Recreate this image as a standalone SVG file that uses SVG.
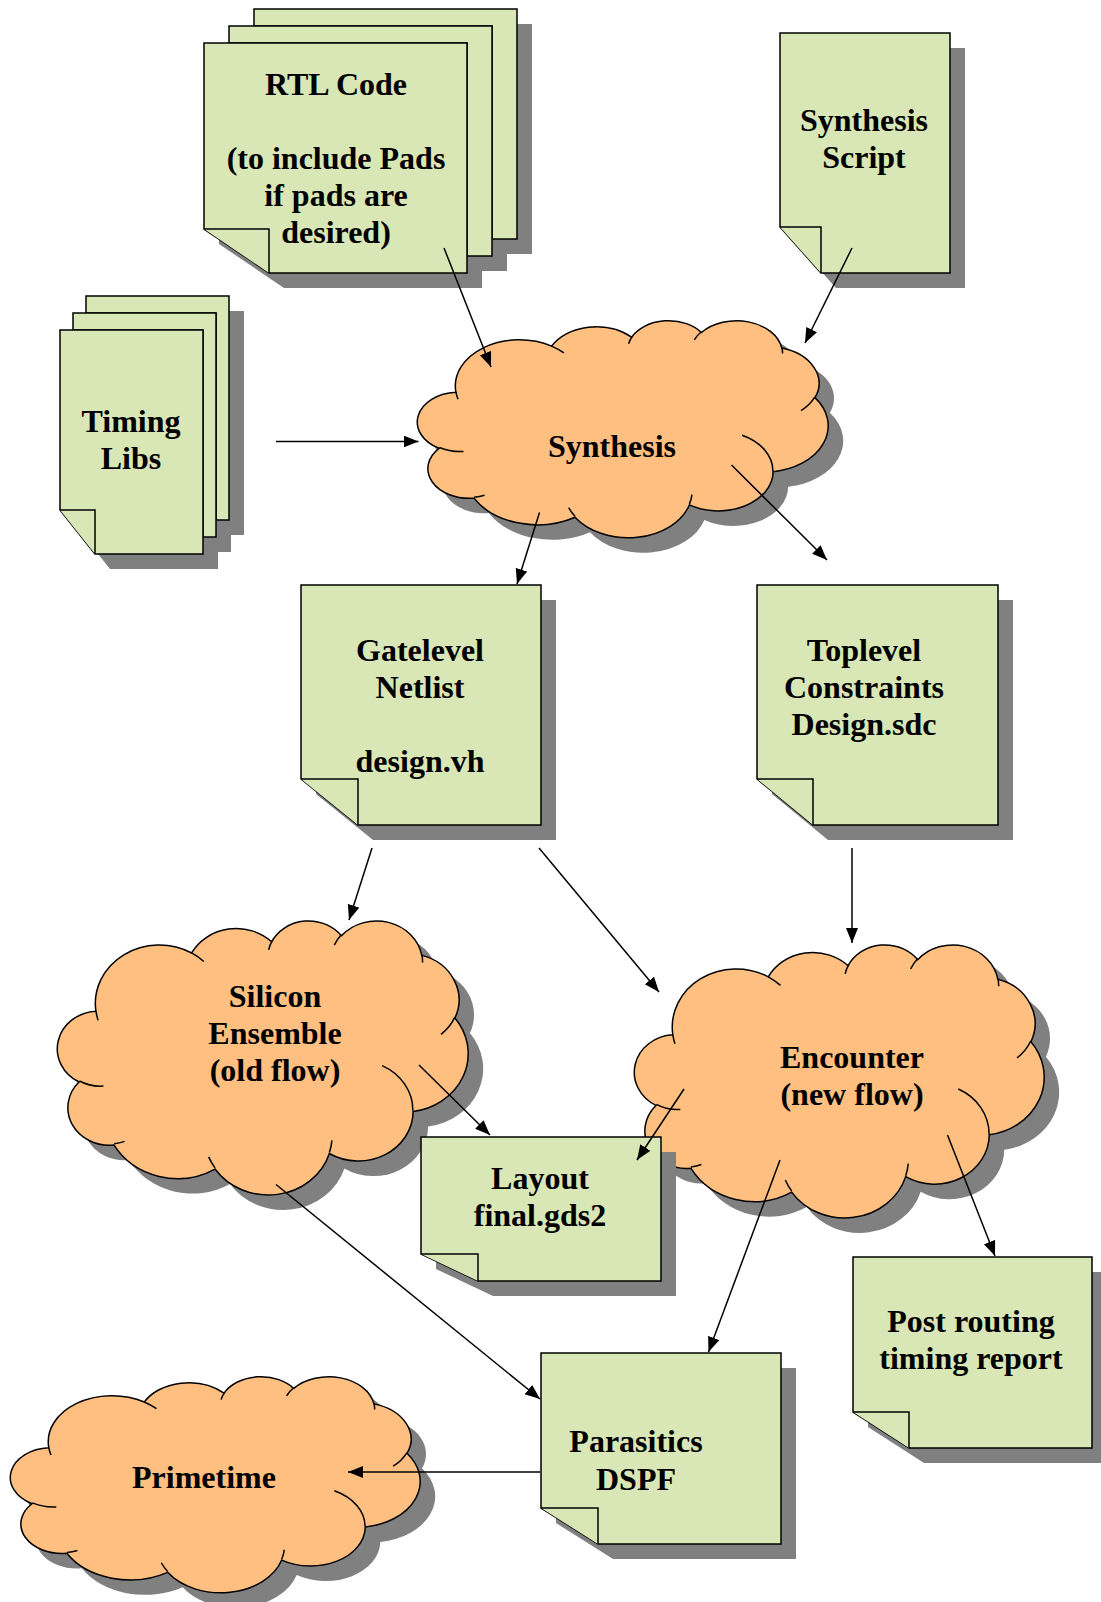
<svg xmlns="http://www.w3.org/2000/svg" xmlns:xlink="http://www.w3.org/1999/xlink" width="1101" height="1602" viewBox="0 0 1101 1602">
<style>
.pg{fill:#D8E7B5;stroke:#000;stroke-width:1.5;stroke-linejoin:miter}
.fold{fill:#D8E7B5;stroke:#000;stroke-width:1.5}
.sh{fill:#808080;stroke:none}
.cl{fill:#FFBF80;stroke:#000;stroke-width:1.5}
.cin{fill:none;stroke:#000;stroke-width:1.5}
.t{font-family:"Liberation Serif","Times New Roman",serif;font-weight:bold;font-size:32px;text-anchor:middle;fill:#000}
.cn{stroke:#000;stroke-width:1.5;fill:none;marker-end:url(#ah)}
</style>
<defs>
<marker id="ah" markerWidth="16" markerHeight="13" refX="15" refY="6" orient="auto" markerUnits="userSpaceOnUse"><path d="M0,0 L15,6 L0,12 Z" fill="#000"/></marker>
<path id="cloudShape" vector-effect="non-scaling-stroke" d="M3900 14370A6753 9190 0 0 1 14005 5202A5333 7267 0 0 1 22455 3433A4365 5945 0 0 1 29832 2481A4857 6595 0 0 1 38318 5576A5333 7273 0 0 1 41818 15459A6775 9220 0 0 1 37404 30202A5785 7867 0 0 1 28556 36813A6752 9215 0 0 1 16480 39264A7720 10543 0 0 1 5804 35468A4360 5918 0 0 1 2114 25545A4345 5945 0 0 1 3900 14370Z"/>
<path id="cloudLines" vector-effect="non-scaling-stroke" d="M4693 26177A4345 5945 0 0 1 2160 25380M6928 34899A4360 5918 0 0 1 5820 35280M16478 39090A6752 9215 0 0 1 15810 37350M28827 34751A6752 9215 0 0 1 28560 36660M34129 22954A5785 7867 0 0 1 37380 30090M41798 15354A5333 7273 0 0 1 40350 18030M38324 5426A4857 6595 0 0 1 38400 6690M29078 3952A4857 6595 0 0 1 29819 2341M22141 4720A4365 5945 0 0 1 22540 3225M14000 5192A6753 9190 0 0 1 15300 6540M4127 15789A6753 9190 0 0 1 3900 14370"/>
</defs>
<rect x="0" y="0" width="1101" height="1602" fill="#fff"/>

<g id="rtl">
<polygon class="sh" points="269,41 269,24 532,24 532,254 507,254 507,41"/>
<polygon class="sh" points="244,58 244,41 507,41 507,271 482,271 482,58"/>
<polygon class="sh" points="219,58 482,58 482,288 284,288 219,244"/>
<polygon class="pg" points="254,26 254,9 517,9 517,239 492,239 492,26"/>
<polygon class="pg" points="229,43 229,26 492,26 492,256 467,256 467,43"/>
<polygon class="pg" points="204,43 467,43 467,273 269,273 204,229"/>
<polyline class="fold" points="204,229 269,229 269,273"/>
<text class="t" x="336" y="95">RTL Code</text>
<text class="t" x="336" y="169">(to include Pads</text>
<text class="t" x="336" y="206">if pads are</text>
<text class="t" x="336" y="243">desired)</text>
</g>

<g id="script">
<polygon class="sh" points="795,48 965,48 965,288 836,288 795,242"/>
<polygon class="pg" points="780,33 950,33 950,273 821,273 780,227"/>
<polyline class="fold" points="780,227 821,227 821,273"/>
<text class="t" x="864" y="131">Synthesis</text>
<text class="t" x="864" y="168">Script</text>
</g>

<g id="timing">
<polygon class="sh" points="101,328 101,311 244,311 244,535 231,535 231,328"/>
<polygon class="sh" points="88,345 88,328 231,328 231,552 218,552 218,345"/>
<polygon class="sh" points="75,345 218,345 218,569 110,569 75,525"/>
<polygon class="pg" points="86,313 86,296 229,296 229,520 216,520 216,313"/>
<polygon class="pg" points="73,330 73,313 216,313 216,537 203,537 203,330"/>
<polygon class="pg" points="60,330 203,330 203,554 95,554 60,510"/>
<polyline class="fold" points="60,510 95,510 95,554"/>
<text class="t" x="131" y="432">Timing</text>
<text class="t" x="131" y="469">Libs</text>
</g>

<g id="synthesis">
<use xlink:href="#cloudShape" class="sh" transform="translate(434,335) scale(0.0094676,0.0050231)"/>
<use xlink:href="#cloudShape" class="cl" transform="translate(419,320) scale(0.0094676,0.0050231)"/>
<use xlink:href="#cloudLines" class="cin" transform="translate(419,320) scale(0.0094676,0.0050231)"/>
<text class="t" x="612" y="457">Synthesis</text>
</g>

<g id="gatelevel">
<polygon class="sh" points="316,600 556,600 556,840 373,840 316,794"/>
<polygon class="pg" points="301,585 541,585 541,825 358,825 301,779"/>
<polyline class="fold" points="301,779 358,779 358,825"/>
<text class="t" x="420" y="661">Gatelevel</text>
<text class="t" x="420" y="698">Netlist</text>
<text class="t" x="420" y="772">design.vh</text>
</g>

<g id="toplevel">
<polygon class="sh" points="772,600 1013,600 1013,840 828,840 772,794"/>
<polygon class="pg" points="757,585 998,585 998,825 813,825 757,779"/>
<polyline class="fold" points="757,779 813,779 813,825"/>
<text class="t" x="864" y="661">Toplevel</text>
<text class="t" x="864" y="698">Constraints</text>
<text class="t" x="864" y="735">Design.sdc</text>
</g>

<g id="silicon">
<use xlink:href="#cloudShape" class="sh" transform="translate(74,935) scale(0.0094676,0.0063426)"/>
<use xlink:href="#cloudShape" class="cl" transform="translate(59,920) scale(0.0094676,0.0063426)"/>
<use xlink:href="#cloudLines" class="cin" transform="translate(59,920) scale(0.0094676,0.0063426)"/>
<text class="t" x="275" y="1007">Silicon</text>
<text class="t" x="275" y="1044">Ensemble</text>
<text class="t" x="275" y="1081">(old flow)</text>
</g>

<g id="encounter">
<use xlink:href="#cloudShape" class="sh" transform="translate(651,959) scale(0.0094444,0.0063194)"/>
<use xlink:href="#cloudShape" class="cl" transform="translate(636,944) scale(0.0094444,0.0063194)"/>
<use xlink:href="#cloudLines" class="cin" transform="translate(636,944) scale(0.0094444,0.0063194)"/>
<text class="t" x="852" y="1068">Encounter</text>
<text class="t" x="852" y="1105">(new flow)</text>
</g>

<g id="layout">
<polygon class="sh" points="436,1152 676,1152 676,1296 493,1296 436,1269"/>
<polygon class="pg" points="421,1137 661,1137 661,1281 478,1281 421,1254"/>
<polyline class="fold" points="421,1254 478,1254 478,1281"/>
<text class="t" x="540" y="1189">Layout</text>
<text class="t" x="540" y="1226">final.gds2</text>
</g>

<g id="parasitics">
<polygon class="sh" points="556,1368 796,1368 796,1559 613,1559 556,1523"/>
<polygon class="pg" points="541,1353 781,1353 781,1544 598,1544 541,1508"/>
<polyline class="fold" points="541,1508 598,1508 598,1544"/>
<text class="t" x="636" y="1452">Parasitics</text>
<text class="t" x="636" y="1490">DSPF</text>
</g>

<g id="postrouting">
<polygon class="sh" points="868,1272 1107,1272 1107,1463 924,1463 868,1427"/>
<polygon class="pg" points="853,1257 1092,1257 1092,1448 909,1448 853,1412"/>
<polyline class="fold" points="853,1412 909,1412 909,1448"/>
<text class="t" x="971" y="1332">Post routing</text>
<text class="t" x="971" y="1369">timing report</text>
</g>

<g id="primetime">
<use xlink:href="#cloudShape" class="sh" transform="translate(27,1391) scale(0.0094444,0.005)"/>
<use xlink:href="#cloudShape" class="cl" transform="translate(12,1376) scale(0.0094444,0.005)"/>
<use xlink:href="#cloudLines" class="cin" transform="translate(12,1376) scale(0.0094444,0.005)"/>
<text class="t" x="204" y="1488">Primetime</text>
</g>

<g id="connectors">
<line class="cn" x1="444" y1="248" x2="491" y2="367"/>
<line class="cn" x1="852" y1="248" x2="805" y2="343"/>
<line class="cn" x1="276" y1="441.5" x2="418.5" y2="441.5"/>
<line class="cn" x1="539.5" y1="512.5" x2="517" y2="584"/>
<line class="cn" x1="731.5" y1="465" x2="827" y2="560"/>
<line class="cn" x1="372" y1="848" x2="349" y2="920"/>
<line class="cn" x1="539" y1="848" x2="659" y2="992"/>
<line class="cn" x1="852" y1="848" x2="852" y2="943"/>
<line class="cn" x1="419" y1="1065" x2="490" y2="1135"/>
<line class="cn" x1="684" y1="1089" x2="637" y2="1160"/>
<line class="cn" x1="276" y1="1184.5" x2="540" y2="1399"/>
<line class="cn" x1="780" y1="1160" x2="708.5" y2="1352"/>
<line class="cn" x1="947.5" y1="1135" x2="995" y2="1256"/>
<line class="cn" x1="540.5" y1="1472" x2="348" y2="1472"/>
</g>
</svg>
